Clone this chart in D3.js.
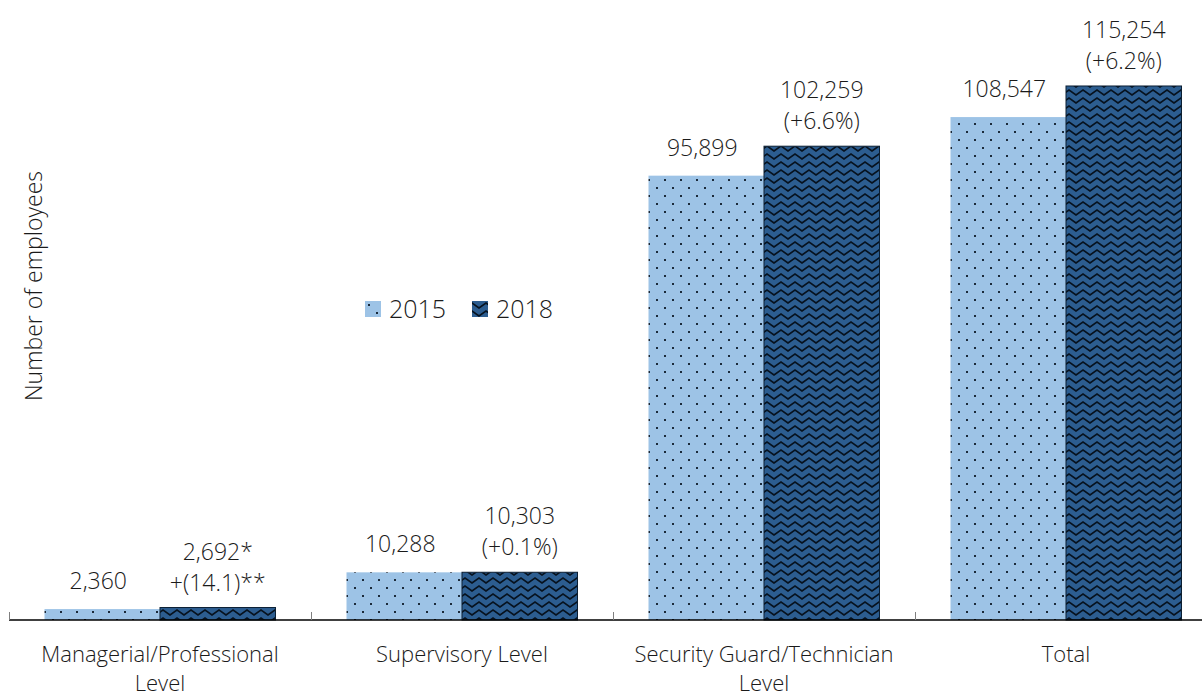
<!DOCTYPE html>
<html>
<head>
<meta charset="utf-8">
<script src="https://cdn.jsdelivr.net/npm/d3@7"></script>
<style>
  body { margin: 0; background: #fff; }
  svg { display: block; font-family: "Open Sans", sans-serif; font-weight: 300; }
</style>
</head>
<body>
<div id="chart"></div>
<script>
const categories = [
  ["Managerial/Professional", "Level"],
  ["Supervisory Level"],
  ["Security Guard/Technician", "Level"],
  ["Total"]
];
const years = ["2015", "2018"];
const values2015 = [2360, 10288, 95899, 108547];
const values2018 = [2692, 10303, 102259, 115254];
const labels2015 = ["2,360", "10,288", "95,899", "108,547"];
const labels2018 = [
  ["2,692*", "+(14.1)**"],
  ["10,303", "(+0.1%)"],
  ["102,259", "(+6.6%)"],
  ["115,254", "(+6.2%)"]
];
const yTitle = "Number of employees";

const width = 1202;
const height = 696;
const baseY = 620;

const svg = d3.select("#chart").append("svg")
  .attr("width", width)
  .attr("height", height);

// patterns
const defs = svg.append("defs");
const dots = defs.append("pattern")
  .attr("id", "dots")
  .attr("patternUnits", "userSpaceOnUse")
  .attr("width", 16).attr("height", 16);
dots.append("rect").attr("width", 16).attr("height", 16).attr("fill", "#9dc3e6");
dots.append("rect").attr("x", 3).attr("y", 3).attr("width", 2).attr("height", 2).attr("fill", "#1b2a3a");
dots.append("rect").attr("x", 11).attr("y", 11).attr("width", 2).attr("height", 2).attr("fill", "#1b2a3a");

const zig = defs.append("pattern")
  .attr("id", "zig")
  .attr("patternUnits", "userSpaceOnUse")
  .attr("width", 14).attr("height", 8);
zig.append("rect").attr("width", 14).attr("height", 8).attr("fill", "#2c5d90");
zig.append("path")
  .attr("d", "M-3.5,5.5 L0,2 L7,7 L14,2 L17.5,5.5")
  .attr("fill", "none")
  .attr("stroke", "#06121f")
  .attr("stroke-width", 1.7);

const x0 = d3.scaleBand()
  .domain(d3.range(categories.length))
  .range([9, 1217])
  .paddingInner(0);

const x1 = d3.scaleBand()
  .domain(years)
  .range([35.5, x0.bandwidth() - 35.5]);

const y = d3.scaleLinear()
  .domain([0, 120000])
  .range([baseY, 64]);

const fills = { "2015": "url(#dots)", "2018": "url(#zig)" };
const series = { "2015": values2015, "2018": values2018 };

const groups = svg.append("g")
  .selectAll("g")
  .data(categories)
  .join("g")
  .attr("transform", (d, i) => `translate(${x0(i)},0)`);

groups.selectAll("rect")
  .data((d, i) => years.map(yr => ({ yr, v: series[yr][i] })))
  .join("rect")
  .attr("x", d => x1(d.yr))
  .attr("y", d => y(d.v))
  .attr("width", x1.bandwidth())
  .attr("height", d => baseY - y(d.v))
  .attr("fill", d => fills[d.yr])
  .attr("stroke", d => d.yr === "2018" ? "#0b1f33" : "none")
  .attr("stroke-width", 1);

// value labels
groups.append("text")
  .attr("x", x1("2015") + x1.bandwidth() / 2 - 4)
  .attr("y", (d, i) => y(values2015[i]) - 20)
  .attr("text-anchor", "middle")
  .style("font-size", "23px")
  .style("fill", "#1a1a1a")
  .text((d, i) => labels2015[i]);

groups.append("text")
  .attr("text-anchor", "middle")
  .style("font-size", "23px")
  .style("fill", "#1a1a1a")
  .each(function(d, i) {
    const t = d3.select(this);
    const yy = y(values2018[i]) - 17;
    labels2018[i].forEach((s, j, arr) => {
      t.append("tspan")
        .attr("x", x1("2018") + x1.bandwidth() / 2)
        .attr("y", yy - (arr.length - 1 - j) * 31)
        .text(s);
    });
  });

// x axis
const axis = svg.append("g");
axis.append("line")
  .attr("x1", 9).attr("x2", width)
  .attr("y1", baseY).attr("y2", baseY)
  .attr("stroke", "#000").attr("stroke-width", 1.5);

axis.selectAll(".tick")
  .data(d3.range(categories.length))
  .join("line")
  .attr("class", "tick")
  .attr("x1", d => x0(d) + 0.5).attr("x2", d => x0(d) + 0.5)
  .attr("y1", baseY - 8).attr("y2", baseY)
  .attr("stroke", "#7f7f7f");

axis.selectAll(".cat")
  .data(categories)
  .join("text")
  .attr("class", "cat")
  .attr("text-anchor", "middle")
  .style("font-size", "22px")
  .style("fill", "#1a1a1a")
  .each(function(d, i) {
    const t = d3.select(this);
    d.forEach((s, j) => {
      t.append("tspan")
        .attr("x", x0(i) + x0.bandwidth() / 2)
        .attr("y", 662 + j * 29)
        .text(s);
    });
  });

// y title
svg.append("text")
  .attr("transform", "translate(42,286) rotate(-90)")
  .attr("text-anchor", "middle")
  .style("font-size", "23px")
  .style("fill", "#1a1a1a")
  .text(yTitle);

// legend
const legend = svg.append("g").attr("transform", "translate(365,301)");
const items = legend.selectAll("g")
  .data(years)
  .join("g")
  .attr("transform", (d, i) => `translate(${i * 107},0)`);
items.append("rect")
  .attr("width", 16).attr("height", 16)
  .attr("fill", d => fills[d]);
items.append("text")
  .attr("x", 24).attr("y", 17)
  .style("font-size", "25px")
  .style("fill", "#1a1a1a")
  .text(d => d);
</script>
</body>
</html>
